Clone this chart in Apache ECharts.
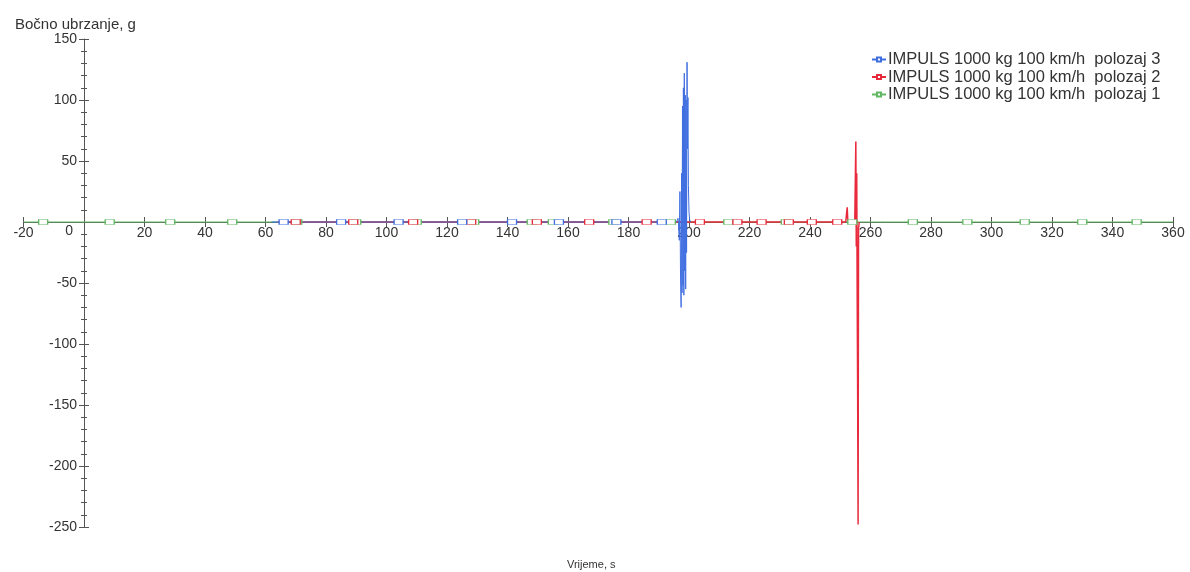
<!DOCTYPE html>
<html><head><meta charset="utf-8">
<script src="https://cdn.jsdelivr.net/npm/echarts@6/dist/echarts.min.js"></script>
<style>html,body{margin:0;padding:0;background:#fff}#c{width:1190px;height:572px}</style>
</head><body><div id="c"></div>
<script>
// ---- data ----
const seriesNames = ['IMPULS 1000 kg 100 km/h  polozaj 3','IMPULS 1000 kg 100 km/h  polozaj 2','IMPULS 1000 kg 100 km/h  polozaj 1'];
const xTicks = [-20,0,20,40,60,80,100,120,140,160,180,200,220,240,260,280,300,320,340,360];
const yTicks = [-250,-200,-150,-100,-50,0,50,100,150];
// polozaj 1 (green)
const p1Start = [-20, 0];
const p1Marks = [-13.5, 8.5, 28.5, 49, 70.5, 90, 110, 129, 148, 155, 175, 194, 213, 232, 254, 274, 292, 311, 330, 348];
const p1End = [360, 0];
// polozaj 3 (blue)
const p3Start = [62, 0];
const p3Marks = [66, 85, 104, 125, 141.5, 157, 176, 191];
const p3SpikeT = [195.8, 196.4, 196.8, 197.0, 197.2, 197.4, 197.55, 197.7, 197.85, 198.0, 198.15, 198.3, 198.45, 198.6, 198.75, 198.9, 199.05, 199.2, 199.35, 199.5, 199.65, 199.8, 200.0, 200.2, 200.5];
const p3SpikeV = [0, 3, -15, 25, -45, -70, 40, -58, 95, -52, 110, -60, 122, -40, 104, -55, 100, -25, 131, 60, 102, 30, 8, 2, 0];
// polozaj 2 (red)
const p2Start = [64, 0];
const p2Marks = [70, 89, 108.8, 128, 149.7, 167, 186, 203.6, 216, 224, 233, 240.6, 249];
const p2SpikeT = [251.8, 252.3, 252.5, 253.0, 254.8, 255.15, 255.3, 255.45, 255.6, 255.75, 255.9, 256.05, 256.3];
const p2SpikeV = [0, 12, 1, 0, 0, 66, -20, 40, -60, -140, -248, -5, 0];

const colors = ['#3f6ee0', '#e82a3c', '#62b862'];

function build(start, marks, spikeT, spikeV, end) {
  const pts = [];
  pts.push({value: start, symbol: 'none'});
  marks.forEach(t => pts.push({value: [t, 0]}));
  (spikeT || []).forEach((t, i) => pts.push({value: [t, spikeV[i]], symbol: 'none'}));
  if (end) pts.push({value: end, symbol: 'none'});
  pts.sort((a, b) => a.value[0] - b.value[0]);
  return pts;
}

const chart = echarts.init(document.getElementById('c'));
const font = 'Liberation Sans, Arial, sans-serif';
const axisCol = '#555';
const G = {left: 23.5, right: 17, top: 39, bottom: 45};
const W = 1190, H = 572;
const xMin = xTicks[0], xMax = xTicks[xTicks.length - 1];
const yMin = yTicks[0], yMax = yTicks[yTicks.length - 1];
// offsets that move the axes onto the other axis' zero
const plotW = W - G.left - G.right, plotH = H - G.top - G.bottom;
const yAxisOffset = -((0 - xMin) / (xMax - xMin)) * plotW;
const xAxisOffset = -((0 - yMin) / (yMax - yMin)) * plotH;

function lineSeries(name, color, data, w) {
  return {
    name, type: 'line', data, color, xAxisIndex: 0, yAxisIndex: 0,
    symbol: 'rect', symbolSize: [9, 5], showAllSymbol: true,
    itemStyle: {color: '#fff', borderColor: color, borderWidth: 1},
    lineStyle: {color, width: w || 1}, animation: false
  };
}

chart.setOption({
  animation: false,
  textStyle: {fontFamily: font},
  title: [
    {text: 'Bočno ubrzanje, g', left: 10, top: 12, textStyle: {fontSize: 15, fontWeight: 'normal', color: '#333', fontFamily: font}},
    {text: 'Vrijeme, s', left: 562, top: 554, textStyle: {fontSize: 11, fontWeight: 'normal', color: '#333', fontFamily: font}}
  ],
  legend: {
    orient: 'vertical', left: 866, top: 46, itemGap: 0.5, itemWidth: 14, itemHeight: 5,
    data: seriesNames,
    textStyle: {fontSize: 16.5, lineHeight: 15, color: '#333', fontFamily: font, padding: [0, 0, 0, -3]}
  },
  grid: {left: G.left, right: G.right, top: G.top, bottom: G.bottom, outerBoundsMode: 'none', containLabel: false},
  xAxis: [
    {type: 'value', min: xMin, max: xMax, interval: 20, position: 'bottom', offset: xAxisOffset,
     axisLine: {onZero: false, lineStyle: {color: axisCol}},
     axisTick: {show: true, length: 5, lineStyle: {color: axisCol}},
     axisLabel: {color: '#333', fontSize: 14, margin: 4, fontFamily: font,
       formatter: v => (v === 0 ? '' : String(v))},
     splitLine: {show: false}},
    {type: 'value', min: xMin, max: xMax, interval: 20, position: 'bottom', offset: xAxisOffset,
     axisLine: {show: false, onZero: false},
     axisTick: {show: true, inside: true, length: 5, lineStyle: {color: axisCol}},
     axisLabel: {show: false}, splitLine: {show: false}}
  ],
  yAxis: [
    {type: 'value', min: yMin, max: yMax, interval: 50, position: 'left', offset: yAxisOffset,
     axisLine: {onZero: false, lineStyle: {color: axisCol}},
     axisTick: {show: true, length: 5, lineStyle: {color: axisCol}},
     minorTick: {show: true, splitNumber: 5, length: 3, lineStyle: {color: axisCol}},
     axisLabel: {color: '#333', fontSize: 14, margin: 7, fontFamily: font,
       formatter: v => (v === 0 ? '{z|0}' : String(v)),
       rich: {z: {fontSize: 14, color: '#333', padding: [18, 4, 0, 0], fontFamily: font}}},
     splitLine: {show: false}},
    {type: 'value', min: yMin, max: yMax, interval: 50, position: 'left', offset: yAxisOffset,
     axisLine: {show: false, onZero: false},
     axisTick: {show: true, inside: true, length: 5, lineStyle: {color: axisCol}},
     minorTick: {show: true, splitNumber: 5, length: 3, lineStyle: {color: axisCol}},
     axisLabel: {show: false}, splitLine: {show: false}}
  ],
  series: [
    lineSeries(seriesNames[2], colors[2], build(p1Start, p1Marks, null, null, p1End), 1),
    lineSeries(seriesNames[1], colors[1], build(p2Start, p2Marks, p2SpikeT, p2SpikeV, null), 1.5),
    lineSeries(seriesNames[0], colors[0], build(p3Start, p3Marks, p3SpikeT, p3SpikeV, null), 1)
  ]
});
</script></body></html>
